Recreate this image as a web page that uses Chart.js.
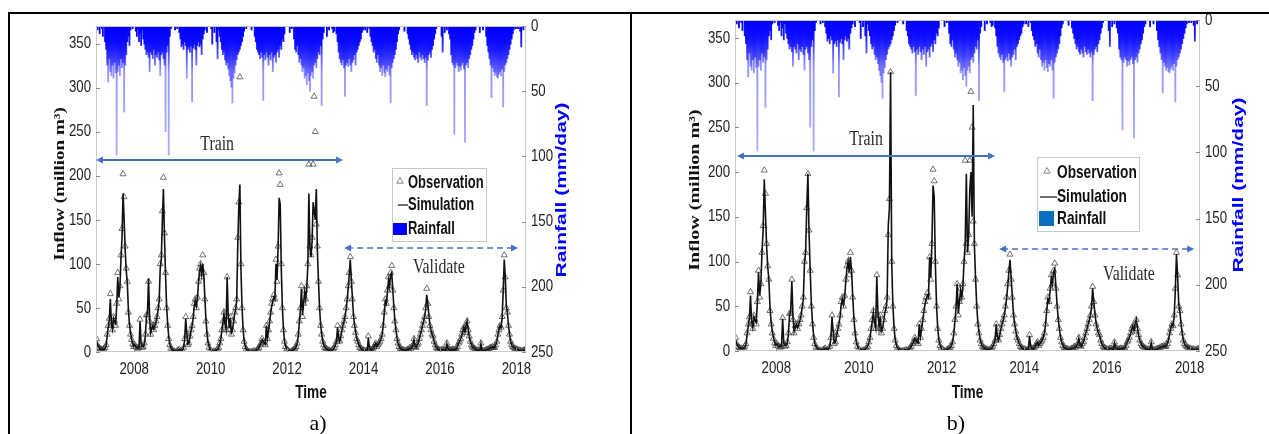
<!DOCTYPE html>
<html>
<head>
<meta charset="utf-8">
<script src="https://cdn.jsdelivr.net/npm/chart.js@4.4.1/dist/chart.umd.min.js"></script>
<style>
  body { margin: 0; background: #fff; width: 1269px; height: 434px; overflow: hidden; position: relative; }
  .rule { position: absolute; background: #000; }
  .panel { position: absolute; top: 14px; height: 420px; }
  .caption { position: absolute; top: 410px; line-height: 26px; font: 22px "Liberation Serif", "Times New Roman", serif; transform: translateX(-50%); }
</style>
</head>
<body>
<div class="rule" style="left:8px;top:12px;width:1261px;height:2px"></div>
<div class="rule" style="left:8px;top:12px;width:2px;height:422px"></div>
<div class="rule" style="left:630px;top:12px;width:2px;height:422px"></div>
<div class="panel" style="left:10px;width:620px"><canvas id="chartA" width="620" height="420"></canvas></div>
<div class="panel" style="left:632px;width:637px"><canvas id="chartB" width="637" height="420"></canvas></div>
<div class="caption" style="left:318px">a)</div>
<div class="caption" style="left:956px">b)</div>

<script>
// ten-day steps starting January 2007
const startYear = 2007;
const stepsPerYear = 36;
const yearTicks = [2008, 2010, 2012, 2014, 2016, 2018];
const inflowTicks = [0, 50, 100, 150, 200, 250, 300, 350];
const rainTicks = [0, 50, 100, 150, 200, 250];

// observed inflow, million m3
const observed = [
  15,8,5,4,3,3,2,3,5,8,20,30,38,66,30,25,40,35,30,55,90,60,75,110,140,202,176,120,95,80,45,30,20,14,9,6,
  8,6,5,4,5,37,8,5,6,10,20,42,42,80,35,20,28,30,25,30,35,40,50,60,100,110,160,198,135,90,50,30,15,8,4,2,
  1,1,0,0,1,2,3,1,0,2,5,15,40,20,8,10,18,25,30,40,55,60,50,62,80,95,100,85,110,90,60,35,20,10,5,2,
  1,0,0,1,0,2,3,5,10,15,25,35,45,30,25,85,40,25,40,20,25,35,45,50,60,130,170,312,100,50,25,12,6,3,1,0,
  0,0,0,0,1,1,0,2,3,5,8,10,15,12,10,8,30,15,25,35,45,55,60,65,60,105,80,120,203,190,100,50,25,12,6,3,
  2,1,0,0,1,2,3,4,6,10,20,35,50,75,40,55,70,60,75,100,213,120,110,130,213,290,250,145,120,80,50,30,20,12,8,5,
  4,3,2,2,1,1,2,3,5,8,12,30,15,12,18,25,30,35,40,50,60,75,90,108,80,60,40,30,22,15,12,8,5,4,3,2,
  2,1,1,2,18,4,3,2,3,5,8,10,6,8,10,12,15,20,30,45,60,55,70,85,75,90,98,70,50,35,25,15,10,6,4,3,
  3,2,2,1,2,3,3,5,4,6,8,15,6,5,8,10,15,20,25,30,35,40,50,72,55,40,30,25,20,18,12,8,5,4,3,2,
  2,2,3,3,2,2,10,4,3,2,2,3,3,2,3,3,6,10,12,15,20,25,28,22,30,35,25,18,12,8,6,5,4,3,2,2,
  2,1,10,2,1,1,2,2,3,3,4,5,5,6,5,5,8,12,20,25,30,28,40,70,110,85,50,45,30,20,12,8,6,5,4,3,
  3,2,2,2,1,1,2,2,3
];

// simulated inflow, model a
const simulatedA = [
  12,8,6,4,3,3,3,3,4,7,18,28,36,60,32,26,38,34,32,52,85,62,72,105,130,180,150,115,92,78,48,32,22,15,10,7,
  8,6,5,5,5,35,9,6,6,9,18,40,45,83,38,22,27,30,26,30,34,40,48,58,95,105,150,185,130,88,52,32,17,9,5,3,
  2,1,1,1,1,2,3,2,1,2,5,14,38,22,9,10,17,24,30,38,52,58,52,60,78,92,98,88,100,88,62,38,22,11,6,3,
  2,1,1,1,1,2,3,5,9,14,24,33,43,32,26,85,42,27,38,22,25,33,43,48,58,120,165,190,95,52,27,13,7,3,2,1,
  1,0,0,1,1,1,1,2,3,5,8,10,14,12,10,9,30,16,24,34,44,52,58,62,60,100,82,118,175,168,95,52,27,13,7,4,
  2,1,1,1,1,2,3,4,6,10,18,33,48,72,42,55,68,60,72,98,180,118,108,125,170,160,150,185,115,82,52,32,21,13,8,5,
  4,3,2,2,2,1,2,3,5,8,12,28,16,12,17,24,30,34,40,48,58,72,88,105,82,62,42,31,23,16,12,8,6,4,3,2,
  2,2,1,2,16,5,3,2,3,5,8,10,6,8,10,12,15,20,30,44,58,55,68,82,75,88,90,72,52,36,25,16,10,7,4,3,
  3,2,2,2,2,3,3,4,4,6,8,14,7,5,8,10,15,20,24,30,34,40,48,65,55,42,31,25,20,17,12,8,5,4,3,2,
  2,2,3,3,2,2,9,4,3,2,2,3,3,2,3,3,6,10,12,15,19,24,28,23,30,35,26,18,12,9,6,5,4,3,2,2,
  2,2,9,2,1,1,2,2,3,3,4,5,5,6,5,5,8,12,19,25,30,28,38,68,105,84,52,44,30,20,12,8,6,5,4,3,
  3,2,2,2,1,1,2,2,3
];

// simulated inflow, model b
const simulatedB = [
  12,8,6,4,3,3,3,3,4,7,18,28,36,62,32,26,38,34,32,55,88,62,74,110,135,192,155,118,94,80,48,32,22,15,10,7,
  8,6,5,5,5,36,9,6,6,9,18,40,45,78,38,22,27,30,26,30,34,40,48,58,98,110,160,198,132,90,52,32,17,9,5,3,
  2,1,1,1,1,2,3,2,1,2,5,14,38,22,9,10,17,24,30,38,52,58,52,60,78,92,100,88,105,90,62,38,22,11,6,3,
  2,1,1,1,1,2,3,5,9,14,24,33,43,32,26,83,42,27,38,22,25,33,43,48,58,140,160,312,98,52,27,13,7,3,2,1,
  1,0,0,1,1,1,1,2,3,5,8,10,14,12,10,9,30,16,24,34,44,52,58,62,60,105,82,120,185,172,98,52,27,13,7,4,
  2,1,1,1,1,2,3,4,6,10,18,33,48,75,42,55,68,60,72,100,120,198,110,128,180,200,150,275,118,82,52,32,21,13,8,5,
  4,3,2,2,2,1,2,3,5,8,12,30,16,12,17,24,30,34,40,48,58,72,88,102,82,62,42,31,23,16,12,8,6,4,3,2,
  2,2,1,2,17,5,3,2,3,5,8,10,6,8,10,12,15,20,30,45,58,55,68,82,75,88,92,72,52,36,25,16,10,7,4,3,
  3,2,2,2,2,3,3,4,4,6,8,14,7,5,8,10,15,20,24,30,34,40,48,70,55,42,31,25,20,17,12,8,5,4,3,2,
  2,2,3,3,2,2,9,4,3,2,2,3,3,2,3,3,6,10,12,15,19,24,28,23,30,35,26,18,12,9,6,5,4,3,2,2,
  2,2,9,2,1,1,2,2,3,3,4,5,5,6,5,5,8,12,19,25,30,28,38,68,108,84,52,44,30,20,12,8,6,5,4,3,
  3,2,2,2,1,1,2,2,3
];

// rainfall, mm/day
const rainfall = [
  0,3,0,6,0,2,8,0,12,18,30,43,25,35,38,30,40,28,36,99,35,30,38,25,32,28,66,30,22,12,8,15,3,0,2,0,
  0,4,8,2,12,6,15,3,10,14,18,22,20,24,35,20,22,25,18,30,22,24,20,26,38,22,20,25,30,81,20,15,99,8,2,0,
  0,0,3,0,2,0,5,10,16,14,18,12,15,40,18,16,20,15,58,17,14,18,30,15,12,16,14,22,10,6,3,0,5,0,0,0,
  2,14,0,5,0,12,25,3,8,12,18,22,20,26,30,28,33,38,42,47,59,40,36,30,26,22,20,18,15,12,8,4,0,2,0,0,
  0,0,3,0,0,8,12,18,20,22,25,20,24,57,22,26,20,24,30,22,26,20,35,24,22,28,20,18,24,15,18,10,12,6,0,0,
  0,0,5,0,2,0,10,18,20,15,22,28,25,30,35,32,40,38,45,36,42,50,38,35,40,30,28,32,25,20,22,15,61,10,5,0,
  0,8,0,3,0,0,2,5,4,0,6,12,20,25,28,30,26,32,54,30,28,31,25,30,35,28,26,22,30,20,18,15,12,10,5,3,
  0,3,0,5,0,2,8,12,15,20,18,25,28,22,30,35,32,38,30,36,39,33,35,30,38,59,32,28,25,22,18,12,6,3,0,0,
  0,0,4,0,0,6,10,14,18,22,20,24,26,22,25,28,20,24,26,22,25,28,24,61,26,22,20,24,18,15,10,6,2,0,0,0,
  0,8,20,0,5,0,3,0,6,10,22,28,30,83,32,28,30,35,31,34,30,28,33,89,30,28,32,25,22,18,15,10,5,3,0,0,
  0,5,0,0,3,0,0,8,15,20,25,30,55,32,35,38,36,39,40,37,35,38,33,62,35,30,28,25,22,18,14,10,6,3,0,2,
  0,2,0,4,16,0,3,0,0
];

const sans = '"Liberation Sans", Arial, sans-serif';
const serifFont = '"Liberation Serif", "Times New Roman", serif';
const arrowBlue = '#4472c4';

const stepYear = i => startYear + (i + 0.5) / stepsPerYear;
const toPoints = arr => arr.map((v, i) => ({ x: stepYear(i), y: v }));

// title y positions are canvas pixels
const panels = [
  {
    canvas: 'chartA', sim: simulatedA, swatch: '#0000ff',
    frame: { left: 86, right: 104, top: 12, bottom: 82 },
    train: { from: 2007.0, to: 2013.46, y: 218, textX: 2010.17, textY: 236 },
    validate: { from: 2013.49, to: 2018.04, y: 118, textX: 2015.97, textY: 96 },
    legend: { dx: 296, dy: 142, w: 94, h: 73, textX: 16, rows: [15, 37, 61], line: [6, 16], mark: 8, swatch: [1, 55, 14, 12], size: 18 },
    inflowTitle: { dx: -36, y: 170, size: 19 }, rainTitle: { dx: 36, y: 176 }, timeTitle: 41
  },
  {
    canvas: 'chartB', sim: simulatedB, swatch: '#0a6fbf',
    frame: { left: 103, right: 69, top: 6, bottom: 83 },
    train: { from: 2007.05, to: 2013.29, y: 218, textX: 2010.17, textY: 237 },
    validate: { from: 2013.39, to: 2018.11, y: 114, textX: 2016.53, textY: 86 },
    legend: { dx: 302, dy: 137, w: 102, h: 74, textX: 20, rows: [16, 40, 62], line: [3, 20], mark: 10, swatch: [2, 54, 15, 15], size: 19 },
    inflowTitle: { dx: -40, y: 176, size: 20 }, rainTitle: { dx: 39, y: 171 }, timeTitle: 42
  }
];

// text squeezed horizontally (or across the glyphs when rotated)
function squeeze(ctx, text, x, y, font, color, k, angle, align) {
  ctx.save();
  ctx.translate(x, y);
  if (angle) { ctx.rotate(angle); ctx.scale(1, k); } else { ctx.scale(k, 1); }
  ctx.font = font;
  ctx.fillStyle = color;
  ctx.textAlign = align || 'center';
  ctx.textBaseline = 'middle';
  ctx.fillText(text, 0, 0);
  ctx.restore();
}

function arrowHead(ctx, x, y, dir) {
  ctx.beginPath();
  ctx.moveTo(x, y);
  ctx.lineTo(x - dir * 7, y - 3.5);
  ctx.lineTo(x - dir * 7, y + 3.5);
  ctx.closePath();
  ctx.fill();
}

function doubleArrow(ctx, x1, x2, y, dashed) {
  ctx.save();
  ctx.strokeStyle = arrowBlue;
  ctx.fillStyle = arrowBlue;
  ctx.lineWidth = dashed ? 1.6 : 2;
  if (dashed) ctx.setLineDash([6, 4]);
  ctx.beginPath();
  ctx.moveTo(x1 + 3, y);
  ctx.lineTo(x2 - 3, y);
  ctx.stroke();
  ctx.setLineDash([]);
  arrowHead(ctx, x1, y, -1);
  arrowHead(ctx, x2, y, 1);
  ctx.restore();
}

// rain bars: saturated near the top, paler down the long spikes
function rainFill(c) {
  const chart = c.chart;
  const r = chart.scales.rain;
  if (!chart.chartArea || !r) return 'rgba(0,0,255,0.5)';
  if (!chart.$rainFill) {
    const g = chart.ctx.createLinearGradient(0, r.getPixelForValue(0), 0, r.getPixelForValue(100));
    g.addColorStop(0, 'rgba(0,0,255,1)');
    g.addColorStop(0.12, 'rgba(0,0,255,0.9)');
    g.addColorStop(0.35, 'rgba(0,0,255,0.42)');
    g.addColorStop(1, 'rgba(0,0,255,0.32)');
    chart.$rainFill = g;
  }
  return chart.$rainFill;
}

function decor(p) {
  return {
    id: 'decor',
    afterDatasetsDraw(chart) {
      const { ctx, chartArea: a, scales } = chart;
      const x = scales.x, y = scales.y, r = scales.rain;
      ctx.save();

      // plot frame and inward ticks
      ctx.strokeStyle = '#c8c8c8';
      ctx.lineWidth = 1;
      ctx.strokeRect(a.left + 0.5, a.top + 0.5, a.width - 1, a.height - 1);
      ctx.strokeStyle = '#8c8c8c';
      ctx.beginPath();
      y.ticks.forEach(t => {
        const py = Math.round(y.getPixelForValue(t.value)) + 0.5;
        ctx.moveTo(a.left, py); ctx.lineTo(a.left + 4, py);
      });
      r.ticks.forEach(t => {
        const py = Math.round(r.getPixelForValue(t.value)) + 0.5;
        ctx.moveTo(a.right, py); ctx.lineTo(a.right - 4, py);
      });
      x.ticks.forEach(t => {
        const px = Math.round(x.getPixelForValue(t.value)) + 0.5;
        ctx.moveTo(px, a.bottom); ctx.lineTo(px, a.bottom - 4);
      });
      ctx.stroke();

      // tick labels, narrow like the rest of the figure
      const tf = '17px ' + sans;
      y.ticks.forEach(t => squeeze(ctx, String(t.value), a.left - 5, y.getPixelForValue(t.value), tf, '#222', 0.78, 0, 'right'));
      r.ticks.forEach(t => squeeze(ctx, String(t.value), a.right + 5, r.getPixelForValue(t.value), tf, '#222', 0.78, 0, 'left'));
      x.ticks.forEach(t => squeeze(ctx, String(t.value), x.getPixelForValue(t.value), a.bottom + 17, tf, '#222', 0.78));

      // train / validate periods
      doubleArrow(ctx, x.getPixelForValue(p.train.from), x.getPixelForValue(p.train.to), y.getPixelForValue(p.train.y), false);
      doubleArrow(ctx, x.getPixelForValue(p.validate.from), x.getPixelForValue(p.validate.to), y.getPixelForValue(p.validate.y), true);
      const serif = '22px ' + serifFont;
      squeeze(ctx, 'Train', x.getPixelForValue(p.train.textX), y.getPixelForValue(p.train.textY), serif, '#2a2a2a', 0.72);
      squeeze(ctx, 'Validate', x.getPixelForValue(p.validate.textX), y.getPixelForValue(p.validate.textY), serif, '#2a2a2a', 0.72);

      // legend
      const L = p.legend;
      const lx = a.left + L.dx, ly = a.top + L.dy;
      ctx.fillStyle = '#fff';
      ctx.fillRect(lx, ly, L.w, L.h);
      ctx.strokeStyle = '#c8c8c8';
      ctx.strokeRect(lx + 0.5, ly + 0.5, L.w, L.h);
      ctx.strokeStyle = '#7a7a7a';
      ctx.lineWidth = 0.9;
      const tx = lx + L.mark, ty = ly + L.rows[0] - 2;
      ctx.beginPath();
      ctx.moveTo(tx, ty - 3.5); ctx.lineTo(tx + 3.2, ty + 2.2); ctx.lineTo(tx - 3.2, ty + 2.2); ctx.closePath();
      ctx.stroke();
      ctx.strokeStyle = '#111';
      ctx.lineWidth = 1.2;
      ctx.beginPath();
      ctx.moveTo(lx + L.line[0], ly + L.rows[1]); ctx.lineTo(lx + L.line[1], ly + L.rows[1]);
      ctx.stroke();
      ctx.fillStyle = p.swatch;
      ctx.fillRect(lx + L.swatch[0], ly + L.swatch[1], L.swatch[2], L.swatch[3]);
      const lf = 'bold ' + L.size + 'px ' + sans;
      squeeze(ctx, 'Observation', lx + L.textX, ly + L.rows[0], lf, '#111', 0.72, 0, 'left');
      squeeze(ctx, 'Simulation', lx + L.textX, ly + L.rows[1], lf, '#111', 0.72, 0, 'left');
      squeeze(ctx, 'Rainfall', lx + L.textX, ly + L.rows[2], lf, '#111', 0.72, 0, 'left');

      // axis titles
      squeeze(ctx, 'Inflow (million m\u00b3)', a.left + p.inflowTitle.dx, p.inflowTitle.y,
        'bold ' + p.inflowTitle.size + 'px ' + serifFont, '#111', 0.72, -Math.PI / 2);
      squeeze(ctx, 'Rainfall (mm/day)', a.right + p.rainTitle.dx, p.rainTitle.y,
        'bold 21px ' + sans, '#0000ff', 0.72, -Math.PI / 2);
      squeeze(ctx, 'Time', (a.left + a.right) / 2, a.bottom + p.timeTitle,
        'bold 18px ' + sans, '#111', 0.76);
      ctx.restore();
    }
  };
}

function build(p) {
  const F = p.frame;
  const hidden = { display: false };
  new Chart(document.getElementById(p.canvas), {
    type: 'bar',
    data: {
      datasets: [
        {
          type: 'line', label: 'Simulation', data: toPoints(p.sim), yAxisID: 'y', order: 0,
          borderColor: '#111', borderWidth: 1.6, pointRadius: 0, tension: 0
        },
        {
          type: 'line', label: 'Observation', data: toPoints(observed), yAxisID: 'y', order: 1,
          showLine: false, pointStyle: 'triangle', pointRadius: 3.5,
          pointBorderColor: 'rgba(60,60,60,0.8)', pointBorderWidth: 0.9, pointBackgroundColor: 'rgba(0,0,0,0)'
        },
        {
          type: 'bar', label: 'Rainfall', data: toPoints(rainfall), yAxisID: 'rain', order: 2,
          backgroundColor: rainFill, barThickness: 1.2, borderWidth: 0
        }
      ]
    },
    options: {
      responsive: false,
      animation: false,
      events: [],
      layout: { padding: { top: F.top, left: 0, right: 0, bottom: 0 } },
      plugins: { legend: { display: false }, tooltip: { enabled: false } },
      scales: {
        x: {
          type: 'linear', min: 2007, max: 2018.25, offset: false,
          grid: hidden, border: hidden, ticks: hidden,
          afterBuildTicks: s => { s.ticks = yearTicks.map(v => ({ value: v })); },
          afterFit: s => { s.height = F.bottom; s.paddingLeft = 0; s.paddingRight = 0; }
        },
        y: {
          position: 'left', min: 0, max: 370,
          grid: hidden, border: hidden, ticks: hidden,
          afterBuildTicks: s => { s.ticks = inflowTicks.map(v => ({ value: v })); },
          afterFit: s => { s.width = F.left; s.paddingTop = 0; s.paddingBottom = 0; }
        },
        rain: {
          position: 'right', min: 0, max: 250, reverse: true,
          grid: hidden, border: hidden, ticks: hidden,
          afterBuildTicks: s => { s.ticks = rainTicks.map(v => ({ value: v })); },
          afterFit: s => { s.width = F.right; s.paddingTop = 0; s.paddingBottom = 0; }
        }
      }
    },
    plugins: [decor(p)]
  });
}

panels.forEach(build);
</script>
</body>
</html>
